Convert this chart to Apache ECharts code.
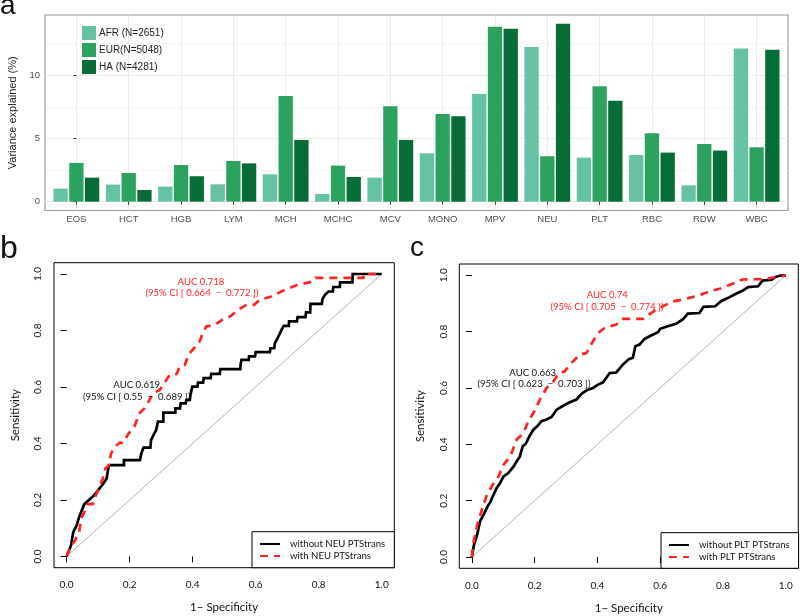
<!DOCTYPE html>
<html><head><meta charset="utf-8">
<script src="https://cdn.jsdelivr.net/npm/echarts@6/dist/echarts.min.js"></script>
<style>html,body{margin:0;padding:0;background:#fff}#c{width:800px;height:616px}</style>
</head><body><div id="c"></div>
<script>
// ---------- Panel a data ----------
const categories = ['EOS','HCT','HGB','LYM','MCH','MCHC','MCV','MONO','MPV','NEU','PLT','RBC','RDW','WBC'];
const afr = [1.03,1.35,1.19,1.37,2.16,0.61,1.90,3.83,8.52,12.22,3.48,3.69,1.29,12.11];
const eur = [3.06,2.27,2.90,3.22,8.36,2.85,7.55,6.94,13.83,3.59,9.13,5.41,4.56,4.30];
const ha  = [1.90,0.92,2.01,3.03,4.88,1.95,4.88,6.75,13.67,14.06,7.97,3.88,4.04,12.01];
const barSeriesNames = ['AFR (N=2651)','EUR(N=5048)','HA (N=4281)'];
const barTicks = [0,5,10];

// ---------- Panel b / c data ([1-specificity, sensitivity]) ----------
const rocTicks = [0,0.2,0.4,0.6,0.8,1.0];
const diagonal = [[0,0],[1,1]];
const neuWithout = [[0,0],[0.014,0.039],[0.021,0.086],[0.032,0.110],[0.040,0.140],[0.056,0.185],[0.070,0.199],[0.088,0.217],[0.104,0.240],[0.117,0.258],[0.127,0.276],[0.134,0.323],[0.182,0.323],[0.182,0.341],[0.233,0.341],[0.237,0.364],[0.244,0.385],[0.266,0.385],[0.268,0.412],[0.276,0.430],[0.284,0.447],[0.290,0.477],[0.307,0.477],[0.307,0.509],[0.345,0.509],[0.345,0.524],[0.360,0.524],[0.362,0.542],[0.378,0.542],[0.380,0.554],[0.391,0.554],[0.393,0.572],[0.399,0.601],[0.415,0.601],[0.417,0.615],[0.433,0.615],[0.435,0.631],[0.457,0.631],[0.459,0.646],[0.486,0.646],[0.488,0.663],[0.551,0.663],[0.552,0.678],[0.555,0.696],[0.578,0.696],[0.579,0.708],[0.598,0.708],[0.600,0.723],[0.645,0.723],[0.647,0.737],[0.659,0.737],[0.661,0.755],[0.668,0.769],[0.675,0.785],[0.682,0.802],[0.689,0.816],[0.705,0.816],[0.706,0.832],[0.731,0.832],[0.733,0.847],[0.758,0.847],[0.760,0.864],[0.773,0.864],[0.774,0.894],[0.810,0.894],[0.812,0.911],[0.820,0.926],[0.831,0.938],[0.845,0.938],[0.846,0.954],[0.867,0.954],[0.868,0.970],[0.907,0.970],[0.908,1.0],[1,1]];
const neuWith = [[0,0],[0.014,0.039],[0.024,0.051],[0.040,0.086],[0.046,0.134],[0.056,0.157],[0.067,0.185],[0.083,0.185],[0.093,0.217],[0.104,0.246],[0.115,0.276],[0.123,0.311],[0.134,0.323],[0.141,0.364],[0.152,0.388],[0.168,0.402],[0.180,0.402],[0.197,0.436],[0.215,0.459],[0.231,0.507],[0.247,0.524],[0.260,0.548],[0.274,0.578],[0.295,0.589],[0.311,0.615],[0.327,0.643],[0.349,0.646],[0.359,0.672],[0.375,0.678],[0.388,0.716],[0.404,0.737],[0.420,0.755],[0.433,0.793],[0.443,0.814],[0.470,0.820],[0.502,0.844],[0.520,0.850],[0.544,0.873],[0.571,0.891],[0.595,0.891],[0.613,0.909],[0.650,0.920],[0.687,0.941],[0.730,0.960],[0.783,0.974],[0.790,0.986],[0.942,0.986],[0.944,1.0],[1,1]];
const pltWithout = [[0,0],[0.007,0.044],[0.018,0.085],[0.026,0.127],[0.037,0.150],[0.050,0.180],[0.058,0.194],[0.069,0.221],[0.079,0.245],[0.090,0.263],[0.101,0.286],[0.116,0.298],[0.132,0.320],[0.143,0.340],[0.153,0.357],[0.162,0.393],[0.172,0.402],[0.183,0.428],[0.196,0.452],[0.208,0.464],[0.222,0.482],[0.238,0.488],[0.254,0.497],[0.270,0.523],[0.291,0.537],[0.312,0.549],[0.333,0.559],[0.352,0.582],[0.370,0.594],[0.386,0.600],[0.402,0.612],[0.418,0.620],[0.439,0.653],[0.460,0.655],[0.481,0.683],[0.500,0.702],[0.513,0.707],[0.521,0.748],[0.534,0.754],[0.550,0.774],[0.571,0.786],[0.593,0.798],[0.600,0.810],[0.624,0.819],[0.651,0.828],[0.672,0.843],[0.688,0.864],[0.725,0.866],[0.738,0.888],[0.775,0.890],[0.794,0.908],[0.815,0.919],[0.843,0.935],[0.862,0.945],[0.880,0.958],[0.912,0.961],[0.926,0.981],[0.955,0.984],[0.968,0.994],[0.984,0.999],[1,1]];
const pltWith = [[0,0],[0.005,0.050],[0.016,0.109],[0.032,0.168],[0.046,0.215],[0.063,0.251],[0.085,0.286],[0.101,0.328],[0.122,0.357],[0.143,0.417],[0.164,0.440],[0.180,0.482],[0.196,0.511],[0.217,0.559],[0.238,0.600],[0.257,0.618],[0.275,0.651],[0.296,0.659],[0.312,0.683],[0.344,0.718],[0.365,0.724],[0.386,0.766],[0.402,0.795],[0.423,0.813],[0.460,0.825],[0.481,0.845],[0.545,0.845],[0.564,0.860],[0.587,0.878],[0.640,0.907],[0.672,0.914],[0.714,0.925],[0.757,0.943],[0.799,0.955],[0.862,0.985],[0.937,0.987],[1,1]];

const chart = echarts.init(document.getElementById('c'), null, {renderer: 'canvas'});
const catIdx = categories.map((_, i) => i);
const toXY = arr => arr.map((v, i) => [i, v]);
const barColors = ['#66C2A4', '#2CA25F', '#076D36'];
const SANS = 'Liberation Sans, Arial, sans-serif';
const MYR = 'Lato, Open Sans, sans-serif';
const RED = '#ff2424';
const FS = 9.6;

function rocX(gi) {
  return {
    type: 'value', gridIndex: gi, min: -0.04, max: 1.04,
    splitLine: {show: false}, axisLine: {show: false},
    axisTick: {show: true, customValues: rocTicks, length: 6, lineStyle: {color: '#000', width: 1}},
    axisLabel: {customValues: rocTicks, formatter: v => v.toFixed(1), margin: 12, fontSize: 10, color: '#111', fontFamily: MYR},
    name: '1\u2212 Specificity', nameLocation: 'middle', nameGap: 34,
    nameTextStyle: {fontSize: 11.5, color: '#111', fontFamily: MYR}
  };
}
function rocY(gi) {
  return {
    type: 'value', gridIndex: gi, min: -0.04, max: 1.04,
    splitLine: {show: false}, axisLine: {show: false},
    axisTick: {show: true, customValues: rocTicks, length: 6, lineStyle: {color: '#000', width: 1}},
    axisLabel: {customValues: rocTicks, formatter: v => v.toFixed(1), margin: 11, rotate: 90, fontSize: 10, color: '#111', fontFamily: MYR},
    name: 'Sensitivity', nameLocation: 'middle', nameGap: 33,
    nameTextStyle: {fontSize: 11.5, color: '#111', fontFamily: MYR}
  };
}
function rocLine(name, data, gi, color, dashed) {
  return {
    type: 'line', name: name, xAxisIndex: gi, yAxisIndex: gi, data: data,
    symbol: 'none', showSymbol: false, animation: false, z: dashed ? 4 : 3,
    color: color,
    lineStyle: {color: color, width: 2.7, type: dashed ? [8, 6] : 'solid', cap: 'butt', join: 'miter'}
  };
}
function diagSeries(gi) {
  return {type: 'line', name: 'diag' + gi, xAxisIndex: gi, yAxisIndex: gi, data: diagonal,
    symbol: 'none', silent: true, animation: false, z: 2,
    lineStyle: {color: '#b4b4b4', width: 1}};
}
function txt(x, y, s, color, size, font, align) {
  return {type: 'text', x: x, y: y, z: 10, silent: true,
    style: {text: s, fill: color, font: size + 'px ' + font, textAlign: align || 'center', textVerticalAlign: 'middle'}};
}
function rocLegend(names, left, top) {
  return {data: names, orient: 'vertical', left: left, top: top, itemWidth: 20, itemHeight: 8, itemGap: 0, padding: 0, z: 12,
    selectedMode: false,
    itemStyle: {color: 'transparent', borderColor: 'transparent', borderWidth: 0, opacity: 0},
    textStyle: {fontSize: FS, lineHeight: 12, color: '#111', fontFamily: MYR, padding: [0, 0, 0, 5]}};
}

const option = {
  animation: false,
  backgroundColor: '#fff',
  grid: [
    {left: 45, top: 15, width: 743, height: 195.5, show: true, borderColor: '#9a9a9a', borderWidth: 1.2, backgroundColor: 'transparent', containLabel: false, outerBoundsMode: 'none'},
    {left: 54, top: 262.7, width: 340.3, height: 305, show: true, borderColor: '#000', borderWidth: 1, containLabel: false, outerBoundsMode: 'none'},
    {left: 459.3, top: 264, width: 339, height: 304.3, show: true, borderColor: '#000', borderWidth: 1, containLabel: false, outerBoundsMode: 'none'}
  ],
  xAxis: [
    {type: 'value', gridIndex: 0, min: -0.6, max: 13.6, minInterval: 1, maxInterval: 1, splitNumber: 14,
      splitLine: {show: true, lineStyle: {color: '#ebebeb', width: 1}},
      axisLine: {show: false},
      axisTick: {show: true, customValues: catIdx, length: 3, lineStyle: {color: '#333'}},
      axisLabel: {customValues: catIdx, formatter: v => categories[Math.round(v)], margin: 4, fontSize: 9.5, color: '#4d4d4d', fontFamily: SANS}},
    rocX(1), rocX(2)
  ],
  yAxis: [
    {type: 'value', gridIndex: 0, min: -0.70, max: 14.76, minInterval: 5, maxInterval: 5, splitNumber: 3,
      splitLine: {show: true, lineStyle: {color: '#ebebeb', width: 1}},
      minorTick: {show: false, splitNumber: 2},
      minorSplitLine: {show: true, lineStyle: {color: '#f5f5f5', width: 1}},
      axisLine: {show: false},
      axisTick: {show: true, customValues: barTicks, length: 3, lineStyle: {color: '#333'}},
      axisLabel: {customValues: barTicks, margin: 5, fontSize: 9.5, color: '#4d4d4d', fontFamily: SANS},
      name: 'Variance explained (%)', nameLocation: 'middle', nameGap: 21,
      nameTextStyle: {fontSize: 11, color: '#222', fontFamily: SANS}},
    rocY(1), rocY(2)
  ],
  legend: [
    {data: barSeriesNames, orient: 'vertical', left: 82, top: 26, icon: 'rect', itemWidth: 14, itemHeight: 14, itemGap: 3, padding: 0,
      selectedMode: false, textStyle: {fontSize: 10, color: '#222', fontFamily: SANS, padding: [0, 0, 0, -2]}},
    rocLegend(['without NEU PTStrans', 'with NEU PTStrans'], 259, 538),
    rocLegend(['without PLT PTStrans', 'with PLT PTStrans'], 668, 539)
  ],
  series: [
    {type: 'bar', name: barSeriesNames[0], xAxisIndex: 0, yAxisIndex: 0, data: toXY(afr), barWidth: 14.3, barGap: '10%', itemStyle: {color: barColors[0]}},
    {type: 'bar', name: barSeriesNames[1], xAxisIndex: 0, yAxisIndex: 0, data: toXY(eur), barWidth: 14.3, barGap: '10%', itemStyle: {color: barColors[1]}},
    {type: 'bar', name: barSeriesNames[2], xAxisIndex: 0, yAxisIndex: 0, data: toXY(ha), barWidth: 14.3, barGap: '10%', itemStyle: {color: barColors[2]}},
    diagSeries(1),
    rocLine('without NEU PTStrans', neuWithout, 1, '#000', false),
    rocLine('with NEU PTStrans', neuWith, 1, RED, true),
    diagSeries(2),
    rocLine('without PLT PTStrans', pltWithout, 2, '#000', false),
    rocLine('with PLT PTStrans', pltWith, 2, RED, true)
  ],
  graphic: [
    {type: 'rect', shape: {x: 252, y: 531.7, width: 142.3, height: 36}, z: 9, silent: true, style: {fill: '#fff', stroke: '#000', lineWidth: 1}},
    {type: 'rect', shape: {x: 661, y: 532.7, width: 137.6, height: 35.6}, z: 9, silent: true, style: {fill: '#fff', stroke: '#000', lineWidth: 1}},
    txt(0, 6.3, 'a', '#111', 28, SANS, 'left'),
    txt(0, 249.4, 'b', '#111', 32, SANS, 'left'),
    txt(410, 248.6, 'c', '#111', 28, SANS, 'left'),
    txt(201, 281.7, 'AUC 0.718', RED, FS, MYR),
    txt(202, 293.3, '(95% CI [ 0.664  \u2212  0.772 ])', RED, FS, MYR),
    txt(136.7, 384.7, 'AUC 0.619', '#111', FS, MYR),
    txt(136.7, 396.7, '(95% CI [ 0.55  \u2212  0.689 ])', '#111', FS, MYR),
    txt(607.3, 295.3, 'AUC 0.74', RED, FS, MYR),
    txt(607, 307.3, '(95% CI [ 0.705  \u2212  0.774 ])', RED, FS, MYR),
    txt(532.7, 373.3, 'AUC 0.663', '#111', FS, MYR),
    txt(534, 384.3, '(95% CI [ 0.623  \u2212  0.703 ])', '#111', FS, MYR)
  ]
};
chart.setOption(option);
</script>
</body></html>
